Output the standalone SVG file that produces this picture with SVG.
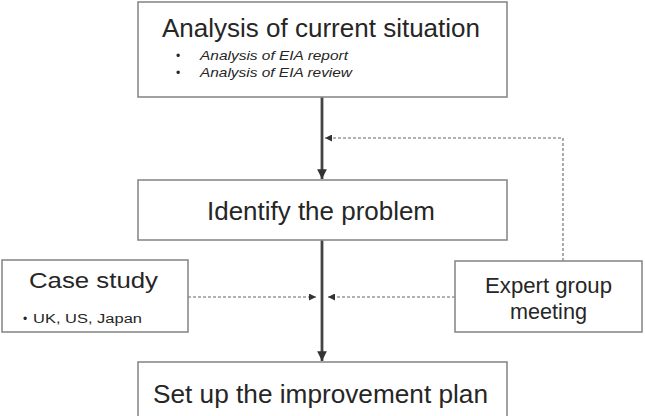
<svg xmlns="http://www.w3.org/2000/svg" width="645" height="416" viewBox="0 0 645 416">
<style>
.box{fill:#fff;stroke:#8a8a8a;stroke-width:1.6}
.t{font-family:"Liberation Sans",Arial,sans-serif;fill:#262626}
.big{font-size:25px}
.mid{font-size:22px}
.sm{font-size:13px;font-style:italic}
.xs{font-size:12px}
.main{stroke:#444;stroke-width:2.8;fill:none}
.dash{stroke:#666;stroke-width:1.1;stroke-dasharray:3,2;fill:none}
</style>
<defs>
<marker id="ah" viewBox="0 0 10 10" refX="10" refY="5" markerWidth="7" markerHeight="7" markerUnits="userSpaceOnUse" orient="auto"><path d="M0,0L10,5L0,10z" fill="#333"/></marker>
<marker id="ahm" viewBox="0 0 10 10" refX="10" refY="5" markerWidth="3.5" markerHeight="3.5" orient="auto"><path d="M0,0L10,5L0,10z" fill="#333"/></marker>
</defs>
<g id="connectors">
<line class="main" x1="322" y1="97" x2="322" y2="179" marker-end="url(#ahm)"/>
<line class="main" x1="322" y1="240" x2="322" y2="361" marker-end="url(#ahm)"/>
<polyline class="dash" points="563,261 563,138 325,138" marker-end="url(#ah)"/>
<line class="dash" x1="188" y1="297" x2="316" y2="297" marker-end="url(#ah)"/>
<line class="dash" x1="455" y1="297" x2="328" y2="297" marker-end="url(#ah)"/>
</g>
<g id="analysis">
<rect class="box" x="138" y="2" width="369" height="95"/>
<text class="t big" x="162" y="37" textLength="318" lengthAdjust="spacingAndGlyphs">Analysis of current situation</text>
<text class="t xs" x="176" y="60">•</text>
<text class="t sm" x="200" y="60" textLength="148" lengthAdjust="spacingAndGlyphs">Analysis of EIA report</text>
<text class="t xs" x="176" y="77">•</text>
<text class="t sm" x="200" y="77" textLength="152" lengthAdjust="spacingAndGlyphs">Analysis of EIA review</text>
</g>
<g id="identify">
<rect class="box" x="138" y="180" width="369" height="60"/>
<text class="t big" x="207" y="220" textLength="228" lengthAdjust="spacingAndGlyphs">Identify the problem</text>
</g>
<g id="case">
<rect class="box" x="2" y="260" width="186" height="72"/>
<text class="t mid" x="29" y="288" textLength="129" lengthAdjust="spacingAndGlyphs">Case study</text>
<text class="t xs" x="23" y="323">•</text>
<text class="t xs" x="33" y="323" textLength="109" lengthAdjust="spacingAndGlyphs">UK, US, Japan</text>
</g>
<g id="expert">
<rect class="box" x="455" y="261" width="187" height="71"/>
<text class="t mid" x="485" y="293" textLength="127" lengthAdjust="spacingAndGlyphs">Expert group</text>
<text class="t mid" x="510" y="319" textLength="77" lengthAdjust="spacingAndGlyphs">meeting</text>
</g>
<g id="plan">
<rect class="box" x="138" y="362" width="369" height="70"/>
<text class="t big" x="153" y="403" textLength="335" lengthAdjust="spacingAndGlyphs">Set up the improvement plan</text>
</g>
</svg>
